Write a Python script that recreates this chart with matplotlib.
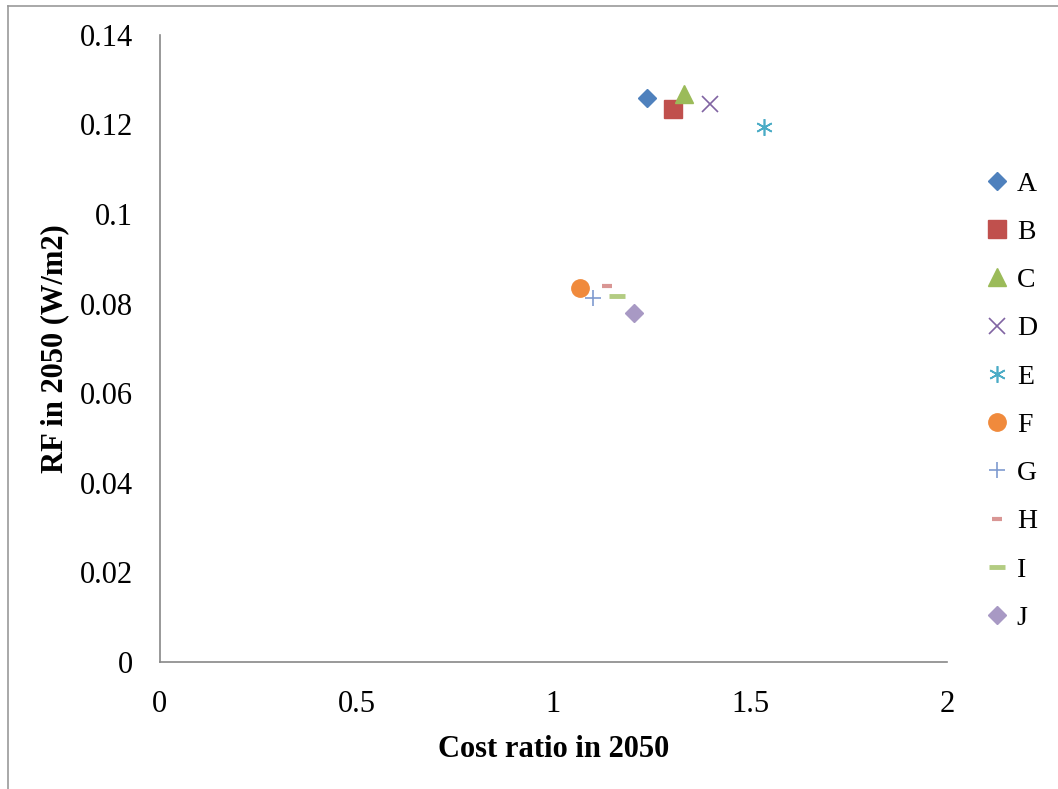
import matplotlib
matplotlib.use("Agg")
import matplotlib.pyplot as plt
from matplotlib.lines import Line2D

plt.rcParams["font.family"] = ["Liberation Serif", "DejaVu Serif"]
plt.rcParams["font.size"] = 20

# data
names = ["A", "B", "C", "D", "E", "F", "G", "H", "I", "J"]
cost_ratio = [1.239, 1.305, 1.331, 1.399, 1.534, 1.069, 1.102, 1.137, 1.163, 1.206]
rf_2050 = [0.1259, 0.1234, 0.1268, 0.1246, 0.1194, 0.0835, 0.0812, 0.0839, 0.0817, 0.0779]

colors = ["#4F81BD", "#C0504D", "#9BBB59", "#8064A2", "#4BACC6",
          "#F08A3C", "#7F9BCF", "#D99694", "#B3CC82", "#A899C4"]
markers = ["D", "s", "^", "x", (6, 2, 0), "o", "+", "_", "_", "D"]
sizes = [9, 12.5, 12.5, 12, 12, 12.5, 12, 7, 12, 9]
widths = [1, 1, 1, 1.2, 1.2, 1, 1.2, 3, 3.5, 1]

fig = plt.figure(figsize=(10.58, 7.89), dpi=100)
ax = fig.add_axes([0.151, 0.161, 0.744, 0.795])

for i, n in enumerate(names):
    ax.plot(cost_ratio[i], rf_2050[i], linestyle="none", marker=markers[i],
            markersize=sizes[i], color=colors[i], markeredgewidth=widths[i],
            label=n)

ax.set_xlim(0, 2)
ax.set_ylim(0, 0.14)
ax.set_xticks([0, 0.5, 1, 1.5, 2])
ax.set_xticklabels(["0", "0.5", "1", "1.5", "2"])
ax.set_yticks([0, 0.02, 0.04, 0.06, 0.08, 0.1, 0.12, 0.14])
ax.set_yticklabels(["0", "0.02", "0.04", "0.06", "0.08", "0.1", "0.12", "0.14"])
ax.tick_params(length=0, labelsize=22)
ax.tick_params(axis="x", pad=20)
ax.tick_params(axis="y", pad=19)

for s in ["top", "right"]:
    ax.spines[s].set_visible(False)
for s in ["left", "bottom"]:
    ax.spines[s].set_color("#888888")
    ax.spines[s].set_linewidth(1.2)

ax.set_xlabel("Cost ratio in 2050", fontweight="bold", fontsize=22, labelpad=12)
ax.set_ylabel("RF in 2050 (W/m2)", fontweight="bold", fontsize=22, labelpad=8)

leg = ax.legend(loc="center left", bbox_to_anchor=(1.034, 0.416), frameon=False,
                fontsize=20, handlelength=0.9, handletextpad=0.25,
                labelspacing=0.82, borderaxespad=0)

# outer chart border (left and top visible in reference)
fig.add_artist(Line2D([0.0075, 0.0075], [0.0, 0.9925], color="#999999", lw=1.2))
fig.add_artist(Line2D([0.0075, 1.0], [0.9925, 0.9925], color="#999999", lw=1.2))

fig.savefig("out.png", dpi=100)
